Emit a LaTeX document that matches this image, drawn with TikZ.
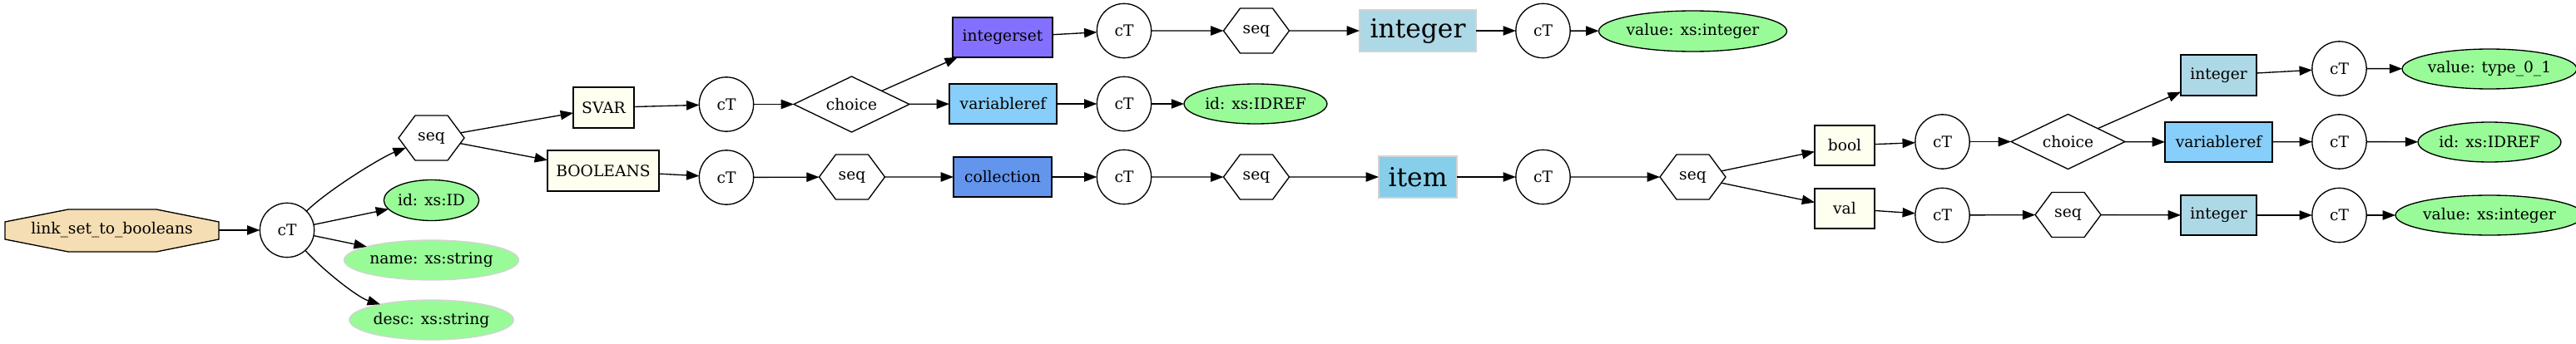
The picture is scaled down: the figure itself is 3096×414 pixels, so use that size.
\documentclass[tikz,border=0pt]{standalone}
\usepackage{fontspec}
\setmainfont{DejaVu Serif}
\usetikzlibrary{shapes.geometric,shapes.symbols,arrows.meta}
\definecolor{cwheat}{HTML}{F5DEB3}
\definecolor{civory}{HTML}{FFFFF0}
\definecolor{cslate}{HTML}{8470FF}
\definecolor{clsky}{HTML}{87CEFA}
\definecolor{ccorn}{HTML}{6495ED}
\definecolor{clblue}{HTML}{ADD8E6}
\definecolor{csky}{HTML}{87CEEB}
\definecolor{cgreen}{HTML}{98FB98}
\definecolor{cgrey}{HTML}{D3D3D3}
\tikzset{
  base/.style={inner sep=0pt, outer sep=0pt, line width=1pt, font=\fontsize{14}{16}\selectfont},
  ct/.style={base, circle, draw, minimum size=49pt},
  hexa/.style={base, signal, signal to=east and west, signal pointer angle=107, draw, minimum width=59.25pt, minimum height=40.5pt},
  dia/.style={base, diamond, draw, aspect=2},
  bx/.style={base, rectangle, draw, minimum height=36pt},
  bigbx/.style={base, rectangle, draw=cgrey, minimum height=37.5pt, font=\fontsize{23.5}{26}\selectfont},
  attr/.style={base, ellipse, draw, fill=cgreen, minimum height=36pt},
  attrg/.style={base, ellipse, draw=cgrey, fill=cgreen, minimum height=36pt},
  octo/.style={line width=1pt, draw, fill=cwheat},
  arr/.style={-{Triangle[length=11.5pt,width=8.5pt]}, line width=1pt},
}
\begin{document}
\begin{tikzpicture}[x=0.75pt,y=-0.75pt]
\useasboundingbox (0,0) rectangle (3096,414);
% octagon outline of the root node
\path[octo] (6,267) -- (82,252) -- (188,252) -- (263,267) -- (263,288) -- (188,303) -- (82,303) -- (6,288) -- cycle;
% nodes
\node[base, rectangle, minimum width=192.75pt, minimum height=38.25pt] (L) at (134.5,277) {link\_set\_to\_booleans};
\node[ct] (c1) at (345,277) {cT};
\node[hexa] (s1) at (518.5,166) {seq};
\node[attr, minimum width=84.75pt, minimum height=36.75pt] (id1) at (518.5,241) {id: xs:ID};
\node[attrg, minimum width=138.75pt] (nm) at (518.5,313) {name: xs:string};
\node[attrg, minimum width=129.75pt] (ds) at (518.5,385) {desc: xs:string};
\node[bx, fill=civory, minimum width=54.75pt, minimum height=36.75pt] (svar) at (725.5,129.5) {SVAR};
\node[bx, fill=civory, minimum width=100.5pt, minimum height=36.75pt] (bools) at (725,205.5) {BOOLEANS};
\node[ct] (c2) at (873,125.5) {cT};
\node[ct] (c3) at (873,213.5) {cT};
\node[dia, minimum width=104.25pt, minimum height=50.25pt] (ch1) at (1023.5,125.5) {choice};
\node[hexa] (s2) at (1024,213) {seq};
\node[bx, fill=cslate, minimum width=90pt] (iset) at (1205,45) {integerset};
\node[bx, fill=clsky, minimum width=96.75pt] (vr1) at (1205.5,125) {variableref};
\node[bx, fill=ccorn, minimum width=88.5pt] (coll) at (1205,213) {collection};
\node[ct] (c4) at (1351,37) {cT};
\node[ct] (c5) at (1351,125) {cT};
\node[ct] (c6) at (1351,213) {cT};
\node[hexa] (s3) at (1510,37) {seq};
\node[attr, minimum width=114pt] (idr1) at (1509,125) {id: xs:IDREF};
\node[hexa] (s4) at (1510,213) {seq};
\node[bigbx, fill=clblue, minimum width=105pt] (intbig) at (1704,37) {integer};
\node[bigbx, fill=csky, minimum width=70.5pt] (item) at (1704,213) {item};
\node[ct] (c7) at (1854.5,37) {cT};
\node[ct] (c8) at (1854.5,213) {cT};
\node[attr, minimum width=146.25pt, minimum height=36.75pt] (vi1) at (2034.5,37.5) {value: xs:integer};
\node[hexa] (s5) at (2034.5,213) {seq};
\node[bx, fill=civory, minimum width=54pt] (bool) at (2217,175) {bool};
\node[bx, fill=civory, minimum width=54pt] (val) at (2217,251) {val};
\node[ct] (c9) at (2334.5,170.5) {cT};
\node[ct] (c10) at (2334.5,259) {cT};
\node[dia, minimum width=102.75pt, minimum height=49.5pt] (ch2) at (2485.5,170.5) {choice};
\node[hexa] (s6) at (2485.5,258.5) {seq};
\node[bx, fill=clblue, minimum width=68.25pt, minimum height=36.75pt] (int2) at (2666.5,90.5) {integer};
\node[bx, fill=clsky, minimum width=96.75pt] (vr2) at (2666.5,171) {variableref};
\node[bx, fill=clblue, minimum width=68.25pt] (int3) at (2666.5,259) {integer};
\node[ct] (c11) at (2811.5,82.5) {cT};
\node[ct] (c12) at (2811.5,170.5) {cT};
\node[ct] (c13) at (2811.5,259) {cT};
\node[attr, minimum width=138pt] (vt) at (2992,83) {value: type\_0\_1};
\node[attr, minimum width=114pt] (idr2) at (2992,171) {id: xs:IDREF};
\node[attr, minimum width=145.5pt] (vi2) at (2992,259) {value: xs:integer};
% edges
\draw[arr] (L) -- (c1);
\draw[arr] (c1) .. controls (395,228) and (459,189) .. (s1);
\draw[arr] (c1) -- (id1);
\draw[arr] (c1) -- (nm);
\draw[arr] (c1) .. controls (388,325) and (430,358) .. (ds);
\draw[arr] (s1) -- (svar);
\draw[arr] (s1) -- (bools);
\draw[arr] (svar) -- (c2);
\draw[arr] (bools) -- (c3);
\draw[arr] (c2) -- (ch1);
\draw[arr] (c3) -- (s2);
\draw[arr] (ch1) -- (iset);
\draw[arr] (ch1) -- (vr1);
\draw[arr] (s2) -- (coll);
\draw[arr] (iset) -- (c4);
\draw[arr] (vr1) -- (c5);
\draw[arr] (coll) -- (c6);
\draw[arr] (c4) -- (s3);
\draw[arr] (c5) -- (idr1);
\draw[arr] (c6) -- (s4);
\draw[arr] (s3) -- (intbig);
\draw[arr] (s4) -- (item);
\draw[arr] (intbig) -- (c7);
\draw[arr] (item) -- (c8);
\draw[arr] (c7) -- (vi1);
\draw[arr] (c8) -- (s5);
\draw[arr] (s5) -- (bool);
\draw[arr] (s5) -- (val);
\draw[arr] (bool) -- (c9);
\draw[arr] (val) -- (c10);
\draw[arr] (c9) -- (ch2);
\draw[arr] (c10) -- (s6);
\draw[arr] (ch2) -- (int2);
\draw[arr] (ch2) -- (vr2);
\draw[arr] (s6) -- (int3);
\draw[arr] (int2) -- (c11);
\draw[arr] (vr2) -- (c12);
\draw[arr] (int3) -- (c13);
\draw[arr] (c11) -- (vt);
\draw[arr] (c12) -- (idr2);
\draw[arr] (c13) -- (vi2);
\end{tikzpicture}
\end{document}
